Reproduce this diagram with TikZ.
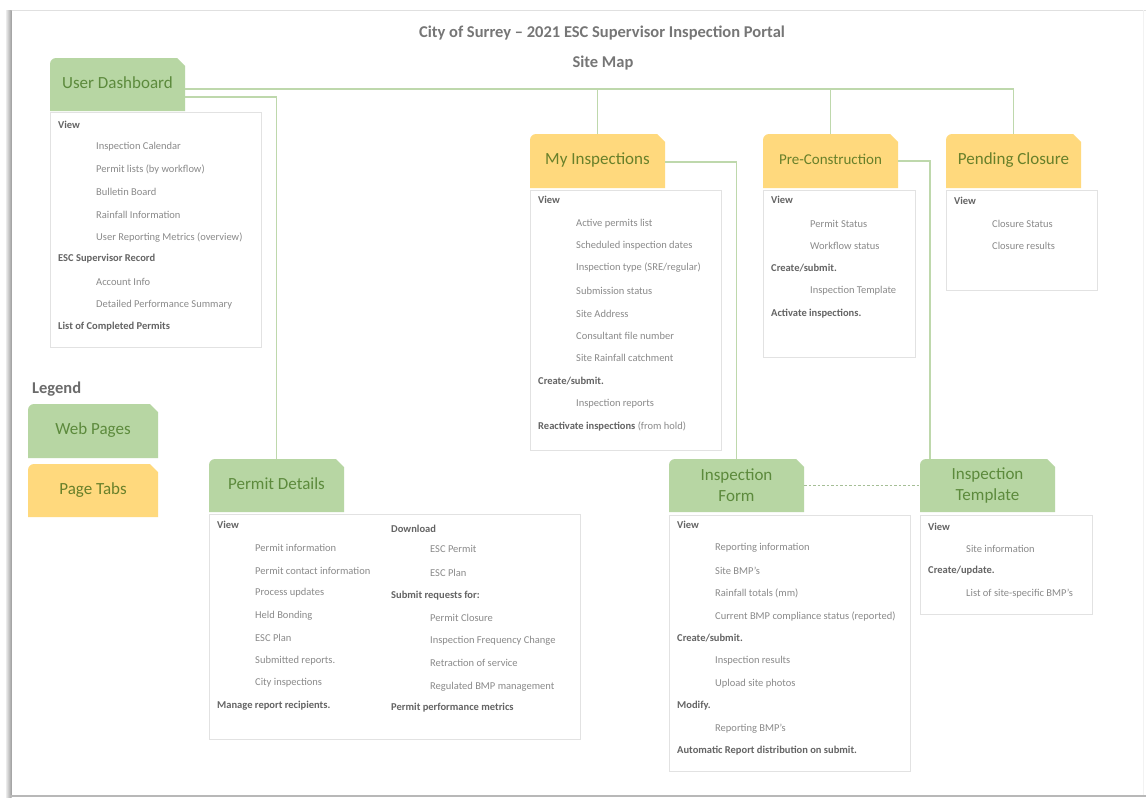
\documentclass[tikz,border=0pt]{standalone}
\usepackage{fontspec}
\setmainfont{Carlito}
\usetikzlibrary{calc,shadows}
\pgfdeclarelayer{background}
\pgfsetlayers{background,main}
\definecolor{gfill}{RGB}{183,214,163}
\definecolor{yfill}{RGB}{255,217,125}
\definecolor{gtext}{RGB}{92,138,60}
\definecolor{ytext}{RGB}{104,128,42}
\definecolor{conn}{RGB}{190,216,172}
\definecolor{dashc}{RGB}{165,190,150}
\definecolor{itemc}{RGB}{138,138,138}
\definecolor{headc}{RGB}{100,100,100}
\definecolor{boxc}{RGB}{226,226,226}
\definecolor{titlec}{RGB}{118,118,118}
\newcommand\hd[1]{{\bfseries\color{headc}#1}}
\newcommand\tabshape[2]{\begin{pgfonlayer}{background}\fill[#2] (#1.south west) -- ([yshift=-6pt]#1.north west) arc[start angle=180,end angle=90,radius=6pt] -- ([xshift=-8pt]#1.north east) -- ([yshift=-8pt]#1.north east) -- (#1.south east) -- cycle;\end{pgfonlayer}}
\tikzset{
 tabg/.style={inner sep=0pt, outer sep=0pt, minimum width=135pt, minimum height=53pt, anchor=north west, align=center, text=gtext, font=\fontsize{17}{21}\selectfont},
 taby/.style={tabg, text=ytext},
 oneline/.style={text height=12pt, text depth=5pt},
 cbox/.style={draw=boxc, fill=white, line width=0.8pt, anchor=north west, inner sep=0pt, outer sep=0pt, drop shadow={shadow xshift=1.2pt, shadow yshift=-1.2pt, opacity=0.12}},
 txt/.style={anchor=west, inner sep=0pt, text=itemc, font=\fontsize{10.5}{12}\selectfont},
 link/.style={draw=conn, line width=1.1pt},
 ttl/.style={inner sep=0pt, text=titlec, font=\fontsize{16.5}{20}\selectfont\bfseries},
}
\begin{document}
\begin{tikzpicture}[x=1pt,y=-1pt]
\useasboundingbox (0,0) rectangle (1146,798);
\begin{pgfonlayer}{background}
\fill[white] (0,0) rectangle (1146,798);
\end{pgfonlayer}
% page frame
\draw[black!12, line width=1pt] (10,10) -- (1146,10);
\shade[left color=black!8, right color=black!38] (6,10) rectangle (11.5,797);
\draw[black!28, line width=1.2pt] (10,796) -- (1146,796);
\draw[black!5, line width=1pt] (1143,10) -- (1143,795);

% titles
\node[ttl] (title) at (602,33) {City of Surrey – 2021 ESC Supervisor Inspection Portal};
\node[ttl] (sitemap) at (603,63) {Site Map};

% tabs
\node[tabg, oneline] (ud) at (50,58) {User Dashboard};
\node[taby, oneline, minimum height=54pt] (mi) at (530,134) {My Inspections};
\node[taby, oneline, minimum height=54pt, font=\fontsize{15}{18}\selectfont] (pre) at (763,134) {Pre-Construction};
\node[taby, oneline, minimum height=54pt] (pend) at (946,134) {Pending Closure};
\node[tabg, oneline] (pd) at (209,459) {Permit Details};
\node[tabg] (form) at (669,459) {Inspection\\Form};
\node[tabg] (tmpl) at (920,459) {Inspection\\Template};
\node[tabg, oneline, minimum width=130pt, minimum height=54pt] (legweb) at (28,404) {Web Pages};
\node[taby, oneline, minimum width=130pt] (legtab) at (28,464) {Page Tabs};
\tabshape{ud}{gfill}
\tabshape{mi}{yfill}
\tabshape{pre}{yfill}
\tabshape{pend}{yfill}
\tabshape{pd}{gfill}
\tabshape{form}{gfill}
\tabshape{tmpl}{gfill}
\tabshape{legweb}{gfill}
\tabshape{legtab}{yfill}

\node[ttl, anchor=west, text=black!58] (legend) at (32,389) {Legend};

% content boxes
\node[cbox, minimum width=211pt, minimum height=235pt] (udbox) at (50,112) {};
\node[cbox, minimum width=371pt, minimum height=225pt] (pdbox) at (209,514) {};
\node[cbox, minimum width=191pt, minimum height=260pt] (mibox) at (530,190) {};
\node[cbox, minimum width=152pt, minimum height=167pt] (prebox) at (763,190) {};
\node[cbox, minimum width=151pt, minimum height=100pt] (pendbox) at (946,190) {};
\node[cbox, minimum width=241pt, minimum height=256pt] (formbox) at (669,515) {};
\node[cbox, minimum width=172pt, minimum height=99pt] (tmplbox) at (920,515) {};

% connectors
\coordinate (bus) at ([yshift=-4.5pt]ud.east);
\draw[link] (bus) -| (pend.north);
\draw[link] (mi.north) -- (mi.north |- bus);
\draw[link] (pre.north) -- (pre.north |- bus);
\draw[link] ([yshift=-12.5pt]ud.east) -| (pd.north);
\draw[link] ([yshift=-1pt]mi.east) -| (form.north);
\draw[link] (pre.east) -| ([xshift=10pt]tmpl.north west);
\draw[line width=1pt, draw=dashc, dash pattern=on 2.5pt off 2pt] (form.east) -- (tmpl.west);

% User Dashboard items
\foreach \dx/\yy/\tx [count=\k] in {0/125/{\hd{View}}, 38/147/{Inspection Calendar}, 38/170/{Permit lists (by workflow)}, 38/192/{Bulletin Board}, 38/215/{Rainfall Information}, 38/238/{User Reporting Metrics (overview)}, 0/259/{\hd{ESC Supervisor Record}}, 38/282/{Account Info}, 38/305/{Detailed Performance Summary}, 0/327/{\hd{List of Completed Permits}}}
  \node[txt] (udt\k) at (58+\dx,\yy) {\tx};

% Permit Details items
\foreach \dx/\yy/\tx [count=\k] in {0/525/{\hd{View}}, 38/548/{Permit information}, 38/571/{Permit contact information}, 38/593/{Process updates}, 38/616/{Held Bonding}, 38/638/{ESC Plan}, 38/661/{Submitted reports.}, 38/683/{City inspections}, 0/706/{\hd{Manage report recipients.}}}
  \node[txt] (pdl\k) at (217+\dx,\yy) {\tx};
\foreach \dx/\yy/\tx [count=\k] in {0/529/{\hd{Download}}, 39/549/{ESC Permit}, 39/573/{ESC Plan}, 0/596/{\hd{Submit requests for:}}, 39/618/{Permit Closure}, 39/641/{Inspection Frequency Change}, 39/663/{Retraction of service}, 39/687/{Regulated BMP management}, 0/708/{\hd{Permit performance metrics}}}
  \node[txt] (pdr\k) at (391+\dx,\yy) {\tx};

% My Inspections items
\foreach \dx/\yy/\tx [count=\k] in {0/200/{\hd{View}}, 38/224/{Active permits list}, 38/246/{Scheduled inspection dates}, 38/268/{Inspection type (SRE/regular)}, 38/291/{Submission status}, 38/314/{Site Address}, 38/336/{Consultant file number}, 38/358/{Site Rainfall catchment}, 0/381/{\hd{Create/submit.}}, 38/404/{Inspection reports}, 0/426/{\hd{Reactivate inspections} (from hold)}}
  \node[txt] (mit\k) at (538+\dx,\yy) {\tx};

% Pre-Construction items
\foreach \dx/\yy/\tx [count=\k] in {0/200/{\hd{View}}, 39/224/{Permit Status}, 39/246/{Workflow status}, 0/268/{\hd{Create/submit.}}, 39/291/{Inspection Template}, 0/314/{\hd{Activate inspections.}}}
  \node[txt] (pret\k) at (771+\dx,\yy) {\tx};

% Pending Closure items
\foreach \dx/\yy/\tx [count=\k] in {0/201/{\hd{View}}, 38/224/{Closure Status}, 38/246/{Closure results}}
  \node[txt] (pendt\k) at (954+\dx,\yy) {\tx};

% Inspection Form items
\foreach \dx/\yy/\tx [count=\k] in {0/525/{\hd{View}}, 38/548/{Reporting information}, 38/571/{Site BMP’s}, 38/593/{Rainfall totals (mm)}, 38/616/{Current BMP compliance status (reported)}, 0/638/{\hd{Create/submit.}}, 38/661/{Inspection results}, 38/684/{Upload site photos}, 0/706/{\hd{Modify.}}, 38/729/{Reporting BMP’s}, 0/751/{\hd{Automatic Report distribution on submit.}}}
  \node[txt] (formt\k) at (677+\dx,\yy) {\tx};

% Inspection Template items
\foreach \dx/\yy/\tx [count=\k] in {0/527/{\hd{View}}, 38/549/{Site information}, 0/571/{\hd{Create/update.}}, 38/594/{List of site-specific BMP’s}}
  \node[txt] (tmplt\k) at (928+\dx,\yy) {\tx};
\end{tikzpicture}
\end{document}
